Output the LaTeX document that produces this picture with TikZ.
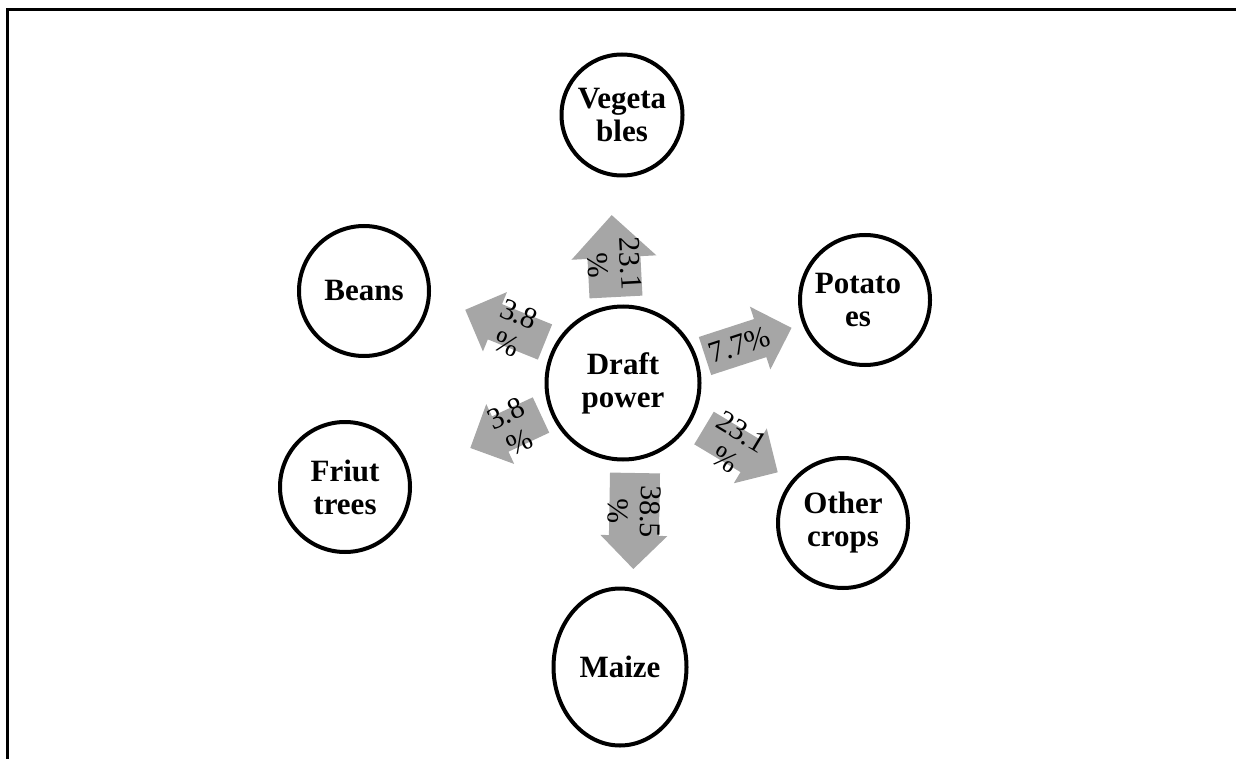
\documentclass[tikz,border=0pt]{standalone}
\usepackage{fontspec}
\setmainfont{Liberation Serif}
\usetikzlibrary{shapes.geometric}
\definecolor{arrowgray}{HTML}{A6A6A6}
\tikzset{
  crop/.style={circle, draw, line width=2pt, inner sep=0pt, align=center,
    font=\fontsize{15.5}{16.5}\selectfont\bfseries},
  croplabel/.style={inner sep=0pt, align=center,
    font=\fontsize{15.5}{16.5}\selectfont\bfseries},
  arrowtext/.style={align=center, inner sep=0pt,
    font=\fontsize{15}{16}\selectfont},
  frame/.style={line width=1.5pt},
}
% block arrow: name, tail point, direction, length, shaft width, head width
\newcommand{\blockarrow}[6]{%
  \begin{scope}[shift={(#2)}, rotate=#3]
    \fill[arrowgray] (0,{-#5/2}) -- ({#4-#6/2},{-#5/2}) -- ({#4-#6/2},{-#6/2})
      -- (#4,0) -- ({#4-#6/2},{#6/2}) -- ({#4-#6/2},{#5/2}) -- (0,{#5/2}) -- cycle;
    \coordinate (#1) at ({0.4*#4},0);
  \end{scope}}
\begin{document}
\begin{tikzpicture}[x=0.5pt, y=0.5pt]
  \useasboundingbox (0,0) rectangle (1236,-759);
  % page frame (top and left edges)
  \draw[frame] (7,-770) -- (7,-10) -- (1250,-10);

  % fields
  \node[crop, minimum size=60.5pt] (veg)   at (622,-115) {Vegeta\\bles};
  \node[crop, minimum size=65pt]   (beans) at (364,-291) {Beans};
  \node[crop, minimum size=65pt]   (pot)   at (865,-300) {};
  \node[croplabel] (potlabel) at ([xshift=-3.5pt]pot.center) {Potato\\es};
  \node[crop, minimum size=76.5pt] (draft) at (623,-383) {Draft\\power};
  \node[crop, minimum size=65pt]   (fruit) at (345,-487) {Friut\\trees};
  \node[crop, minimum size=65pt]   (other) at (843,-523) {Other\\crops};
  \node[crop, ellipse, minimum width=66.5pt, minimum height=78.5pt]
                                   (maize) at (620,-667) {Maize};

  % shares of draft power
  \blockarrow{aveg}{616,-297}{93}{82}{53}{85}
  \blockarrow{abeans}{545,-342}{158}{86}{38}{64}
  \blockarrow{afruit}{541,-415}{205}{78}{39}{66}
  \blockarrow{apot}{705,-356}{18}{91}{40}{66}
  \blockarrow{aother}{704,-428}{-31}{86}{38}{64}
  \blockarrow{amaize}{635,-473}{-91}{96}{50}{67}

  \node[arrowtext, rotate=-87] (tveg)   at (aveg)   {23.1\\\%};
  \node[arrowtext, rotate=-22] (tbeans) at (abeans) {3.8\\\%};
  \node[arrowtext, rotate=25]  (tfruit) at (afruit) {3.8\\\%};
  \node[arrowtext, rotate=18]  (tpot)   at (apot)   {7.7\%};
  \node[arrowtext, rotate=-31] (tother) at (aother) {23.1\\\%};
  \node[arrowtext, rotate=-91] (tmaize) at (amaize) {38.5\\\%};
\end{tikzpicture}
\end{document}
